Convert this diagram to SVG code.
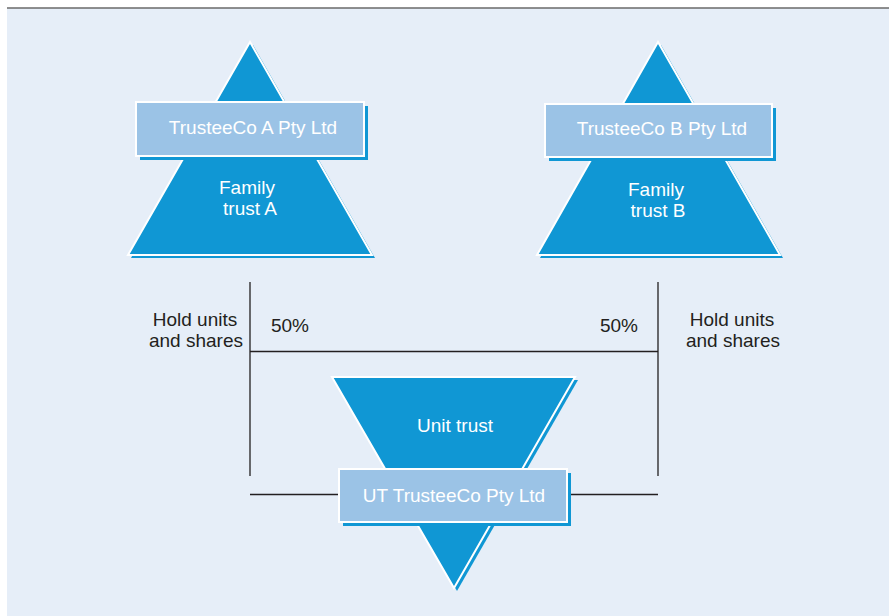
<svg xmlns="http://www.w3.org/2000/svg" width="889" height="616" viewBox="0 0 889 616">
<defs>
<style>
.tri{fill:#1097d4;stroke:#ffffff;stroke-width:2;stroke-linejoin:miter}
.sh{fill:#1097d4}
.box{fill:#9bc3e6;stroke:#ffffff;stroke-width:2}
.wt{font-family:"Liberation Sans",Arial,sans-serif;font-size:19px;fill:#ffffff;text-anchor:middle}
.lb{font-family:"Liberation Sans",Arial,sans-serif;font-size:19px;fill:#231f20;text-anchor:middle}
.ln{stroke:#231f20;stroke-width:1.3;fill:none}
</style>
</defs>
<rect x="0" y="0" width="889" height="616" fill="#ffffff"/>
<rect x="7" y="8" width="882" height="608" fill="#e6eef8"/>
<line x1="7" y1="8" x2="889" y2="8" stroke="#6a6a6a" stroke-width="1.6"/>
<g id="connectors">
<line class="ln" x1="250" y1="282" x2="250" y2="476"/>
<line class="ln" x1="658" y1="282" x2="658" y2="476"/>
<line class="ln" x1="250" y1="351.5" x2="658" y2="351.5"/>
<line class="ln" x1="250" y1="494.5" x2="340" y2="494.5"/>
<line class="ln" x1="566" y1="494.5" x2="658" y2="494.5"/>
</g>
<g id="family-trust-a">
<polygon class="sh" points="253,45 375,258 131,258"/>
<polygon class="tri" points="250,42 372,255 128,255"/>
<rect class="sh" x="140" y="106" width="228" height="54"/>
<rect class="box" x="136" y="102" width="228" height="54"/>
<text class="wt" x="253" y="134">TrusteeCo A Pty Ltd</text>
<text class="wt" x="247" y="194">Family</text>
<text class="wt" x="250" y="215">trust A</text>
</g>
<g id="family-trust-b">
<polygon class="sh" points="661,45 783,258 540,258"/>
<polygon class="tri" points="658,42 780,255 537,255"/>
<rect class="sh" x="549" y="108" width="227" height="53"/>
<rect class="box" x="545" y="104" width="227" height="53"/>
<text class="wt" x="662" y="135">TrusteeCo B Pty Ltd</text>
<text class="wt" x="656" y="196">Family</text>
<text class="wt" x="658" y="217">trust B</text>
</g>
<g id="unit-trust">
<polygon class="sh" points="335,380 578,380 457,591"/>
<polygon class="tri" points="332,377 575,377 454,588"/>
<rect class="sh" x="343" y="473" width="228" height="53"/>
<rect class="box" x="339" y="469" width="228" height="53"/>
<text class="wt" x="455" y="432">Unit trust</text>
<text class="wt" x="454" y="502">UT TrusteeCo Pty Ltd</text>
</g>
<g id="labels">
<text class="lb" x="195" y="326">Hold units</text>
<text class="lb" x="196" y="347">and shares</text>
<text class="lb" x="732" y="326">Hold units</text>
<text class="lb" x="733" y="347">and shares</text>
<text class="lb" x="290" y="332">50%</text>
<text class="lb" x="619" y="332">50%</text>
</g>
</svg>
